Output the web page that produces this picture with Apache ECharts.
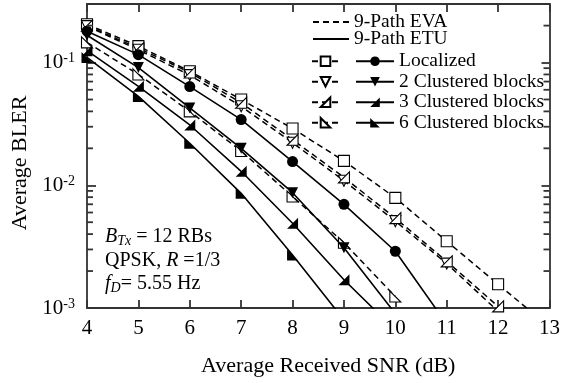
<!DOCTYPE html>
<html>
<head>
<meta charset="utf-8">
<script src="https://cdn.jsdelivr.net/npm/echarts@6/dist/echarts.min.js"></script>
<style>
  html, body { margin: 0; padding: 0; background: #fff; }
  #main { width: 563px; height: 383px; }
</style>
</head>
<body>
<div id="main"></div>
<script>
// SNR axis (dB)
var snr = [4, 5, 6, 7, 8, 9, 10, 11, 12, 13];

// 9-Path EVA (dashed, open markers)
var evaLoc = [0.205, 0.136, 0.085, 0.050, 0.029, 0.0158, 0.0079, 0.0035, 0.00156, 0.0007];
var eva2 = [0.198, 0.127, 0.079, 0.044, 0.0222, 0.0109, 0.0051, 0.0023, 0.00094];
var eva3 = [0.2, 0.131, 0.083, 0.047, 0.0235, 0.0116, 0.0054, 0.0024, 0.00103];
var eva6 = [0.146, 0.080, 0.040, 0.019, 0.0081, 0.0034, 0.00124];

// 9-Path ETU (solid, filled markers)
var etuLoc = [0.18, 0.116, 0.0637, 0.0343, 0.0156, 0.0070, 0.0029, 0.00074];
var etu2 = [0.167, 0.091, 0.0427, 0.0200, 0.0087, 0.0031, 0.0009];
var etu3 = [0.125, 0.064, 0.031, 0.013, 0.0049, 0.0017, 0.00066];
var etu6 = [0.11, 0.053, 0.022, 0.0086, 0.0027, 0.0008];

var legendNames = ['Localized', '2 Clustered blocks', '3 Clustered blocks', '6 Clustered blocks'];
var minorSteps = [2, 3, 4, 5, 6, 7, 8, 9];

var FONT = '"Liberation Serif", "Times New Roman", serif';
var AX = '#333';

var SYM_DOWN = 'path://M0,0 L10,0 L5,9 Z';
var SYM_BR = 'path://M10,0 L10,10 L0,10 Z';
var SYM_BL = 'path://M0,0 L0,10 L10,10 Z';

function pairs(vals) {
  return vals.map(function (v, i) { return [snr[i], v]; });
}

function evaSeries(name, vals, symbol) {
  return {
    name: name, type: 'line', data: pairs(vals),
    symbol: symbol, symbolSize: 11,
    lineStyle: { color: '#000', width: 1.5, type: [6, 4] },
    itemStyle: { color: '#fff', borderColor: '#000', borderWidth: 1.1 },
    z: 3
  };
}

function etuSeries(name, vals, symbol) {
  return {
    name: name, type: 'line', data: pairs(vals),
    symbol: symbol, symbolSize: 11,
    lineStyle: { color: '#000', width: 1.6 },
    itemStyle: { color: '#000', borderColor: '#000', borderWidth: 0 },
    z: 4
  };
}

var chart = echarts.init(document.getElementById('main'));

function supLabel(v) {
  var e = Math.log10(v);
  if (Math.abs(e - Math.round(e)) > 1e-6) return '';
  return '10{sup|' + Math.round(e) + '}';
}

chart.setOption({
  animation: false,
  backgroundColor: '#fff',
  grid: { left: 87, right: 10, top: 4, bottom: 75 },
  xAxis: [
    {
      type: 'value', min: 4, max: 13, interval: 1,
      name: 'Average Received SNR (dB)', nameLocation: 'middle', nameGap: 47,
      nameTextStyle: { fontFamily: FONT, fontSize: 22, color: '#000', padding: [0, 0, 0, 20] },
      axisLine: { lineStyle: { color: AX, width: 1.8 } },
      axisTick: { inside: true, length: 8, lineStyle: { color: AX, width: 1.8 } },
      axisLabel: { fontFamily: FONT, fontSize: 21, color: '#000', margin: 10 },
      splitLine: { show: false }
    },
    {
      type: 'value', min: 4, max: 13, interval: 1, position: 'top',
      axisLine: { lineStyle: { color: AX, width: 1.8 } },
      axisTick: { inside: true, length: 8, lineStyle: { color: AX, width: 1.8 } },
      axisLabel: { show: false },
      splitLine: { show: false }
    }
  ],
  yAxis: [
    {
      type: 'log', min: 0.001, max: 0.3, logBase: 10,
      name: 'Average BLER', nameLocation: 'middle', nameGap: 55,
      nameTextStyle: { fontFamily: FONT, fontSize: 22, color: '#000', padding: [0, 14, 0, 0] },
      axisLine: { lineStyle: { color: AX, width: 1.8 } },
      axisTick: { inside: true, length: 9, lineStyle: { color: AX, width: 1.8 } },
      axisLabel: {
        fontFamily: FONT, fontSize: 21, color: '#000', margin: 12,
        formatter: supLabel,
        rich: { sup: { fontFamily: FONT, fontSize: 14, color: '#000', verticalAlign: 'top', padding: [0, 0, 8, 0] } }
      },
      splitLine: { show: false }
    },
    {
      type: 'log', min: 0.001, max: 0.3, logBase: 10, position: 'right',
      axisLine: { lineStyle: { color: AX, width: 1.8 } },
      axisTick: { inside: true, length: 8, lineStyle: { color: AX, width: 1.8 } },
      axisLabel: { show: false },
      splitLine: { show: false }
    }
  ],
  legend: [
    {
      data: [
        { name: '9-Path EVA', itemStyle: { opacity: 0 } },
        { name: '9-Path ETU', itemStyle: { opacity: 0 } }
      ],
      orient: 'vertical', left: 312, top: 12, padding: 0, itemGap: -3,
      itemWidth: 36, itemHeight: 10, selectedMode: false,
      textStyle: { fontFamily: FONT, fontSize: 19.5, color: '#000', lineHeight: 18 }
    },
    {
      data: ['EVA Localized', 'EVA 2', 'EVA 3', 'EVA 6'],
      orient: 'vertical', left: 311, top: 51, padding: 0, itemGap: 0,
      itemWidth: 27, itemHeight: 12, selectedMode: false,
      formatter: function () { return ' '; },
      textStyle: { fontFamily: FONT, fontSize: 19.5, color: '#000', lineHeight: 20.5 }
    },
    {
      data: legendNames,
      orient: 'vertical', left: 355, top: 51, padding: 0, itemGap: 0,
      itemWidth: 38, itemHeight: 12, selectedMode: false,
      textStyle: { fontFamily: FONT, fontSize: 19.5, color: '#000', lineHeight: 20.5 }
    }
  ],
  series: [
    { name: '9-Path EVA', type: 'line', data: [], symbol: 'none', lineStyle: { color: '#000', width: 1.5, type: [6, 4] }, itemStyle: { color: '#000' } },
    { name: '9-Path ETU', type: 'line', data: [], symbol: 'none', lineStyle: { color: '#000', width: 1.6 }, itemStyle: { color: '#000' } },
    evaSeries('EVA Localized', evaLoc, 'rect'),
    evaSeries('EVA 2', eva2, SYM_DOWN),
    evaSeries('EVA 3', eva3, SYM_BR),
    evaSeries('EVA 6', eva6, SYM_BL),
    etuSeries(legendNames[0], etuLoc, 'circle'),
    etuSeries(legendNames[1], etu2, SYM_DOWN),
    etuSeries(legendNames[2], etu3, SYM_BR),
    etuSeries(legendNames[3], etu6, SYM_BL)
  ]
});

// log minor ticks (2..9 per decade) on left and right edges
var ticks = [];
[-3, -2, -1].forEach(function (d) {
  minorSteps.forEach(function (m) {
    var v = m * Math.pow(10, d);
    if (v > 0.3) return;
    var pl = chart.convertToPixel({ gridIndex: 0 }, [4, v]);
    var pr = chart.convertToPixel({ gridIndex: 0 }, [13, v]);
    ticks.push({ type: 'line', z: 10, shape: { x1: pl[0], y1: pl[1], x2: pl[0] + 6, y2: pl[1] }, style: { stroke: AX, lineWidth: 1.8 }, silent: true });
    ticks.push({ type: 'line', z: 10, shape: { x1: pr[0] - 6, y1: pr[1], x2: pr[0], y2: pr[1] }, style: { stroke: AX, lineWidth: 1.8 }, silent: true });
  });
});

ticks.push({
  type: 'text', left: 105, top: 225,
  style: {
    text: '{i|B}{sub|Tx} = 12 RBs\nQPSK, {i|R} =1/3\n{i|f}{sub|D}= 5.55 Hz',
    fill: '#000', fontFamily: FONT, fontSize: 20, lineHeight: 23.5,
    rich: {
      i: { fontFamily: FONT, fontSize: 20, fontStyle: 'italic', lineHeight: 23.5 },
      sub: { fontFamily: FONT, fontSize: 14, fontStyle: 'italic', verticalAlign: 'bottom', lineHeight: 14 }
    }
  }
});

chart.setOption({ graphic: ticks });
</script>
</body>
</html>
